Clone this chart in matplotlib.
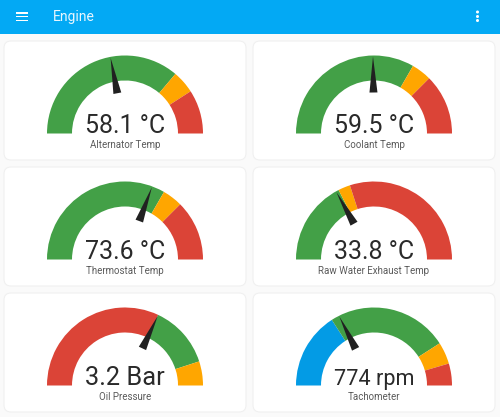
import numpy as np
import matplotlib
matplotlib.use('Agg')
import matplotlib.pyplot as plt
from matplotlib.patches import Wedge, FancyBboxPatch, Polygon, Rectangle, Circle

# --- Data ---
names = ['Alternator Temp', 'Coolant Temp', 'Thermostat Temp',
         'Raw Water Exhaust Temp', 'Oil Pressure', 'Tachometer']
labels = ['58.1 °C', '59.5 °C', '73.6 °C', '33.8 °C', '3.2 Bar', '774 rpm']
values = [58.1, 59.5, 73.6, 33.8, 3.2, 774]
maxes = [132, 120, 120, 100, 5, 2200]
# upper end of each coloured band, in gauge units
band_ends = [[95.5, 108, 132], [80, 90, 120], [80, 90, 120],
             [35, 40, 100], [3.2, 4.5, 5], [700, 1800, 2000, 2200]]
band_colors = [['g', 'o', 'r'], ['g', 'o', 'r'], ['g', 'o', 'r'],
               ['g', 'o', 'r'], ['r', 'g', 'o'], ['b', 'g', 'o', 'r']]

colors = {'g': '#43a047', 'o': '#ffa600', 'r': '#db4437', 'b': '#039be5'}

# --- Layout (pixels) ---
card_x = [4, 253]
card_y = [41, 167, 293]
card_w, card_h = 242, 119
outer, inner = 78, 53
value_width = 80  # the value text is fitted to this width

plt.rcParams['font.family'] = ['Roboto', 'DejaVu Sans']
fig = plt.figure(figsize=(5, 4.17), dpi=100, facecolor='#fafafa')
ax = fig.add_axes([0, 0, 1, 1])
ax.set_xlim(0, 500)
ax.set_ylim(417, 0)
ax.axis('off')

# --- Header ---
ax.add_patch(Rectangle((0, 0), 500, 34, color='#03a9f4', lw=0))
for y in [12.8, 16.5, 20.2]:
    ax.add_patch(Rectangle((15.5, y - 0.7), 12.5, 1.4, color='white', lw=0))
for y in [12, 16.5, 20.5]:
    ax.add_patch(Circle((477.5, y), 1.5, color='white', lw=0))
ax.text(53, 16.5, 'Engine', color='#e8f6fe', fontsize=10, va='center', ha='left')

renderer = fig.canvas.get_renderer()

# --- Gauges ---
for i, name in enumerate(names):
    x0 = card_x[i % 2]
    y0 = card_y[i // 2]
    ax.add_patch(FancyBboxPatch((x0 + 6, y0 + 6), card_w - 12, card_h - 12,
                                boxstyle='round,pad=6,rounding_size=7',
                                fc='white', ec='#f0f0f0', lw=0.8))
    cx = x0 + card_w / 2
    cy = y0 + 92.5

    # y axis points down, so angle 180 is left and 360 is right via the top
    start = 0
    for end, c in zip(band_ends[i], band_colors[i]):
        a0 = 180 + 180 * start / maxes[i]
        a1 = 180 + 180 * end / maxes[i]
        ax.add_patch(Wedge((cx, cy), outer, a0, a1, width=outer - inner,
                           fc=colors[c], ec='none', lw=0))
        start = end

    # needle
    t = np.pi * (1 + values[i] / maxes[i])
    d = np.array([np.cos(t), np.sin(t)])
    n = np.array([-d[1], d[0]])
    c0 = np.array([cx, cy])
    ax.add_patch(Polygon([c0 + 77 * d, c0 + 41 * d + 4 * n, c0 + 41 * d - 4 * n],
                         closed=True, fc='#212121', ec='none'))

    txt = ax.text(cx, cy - 0.5, labels[i], color='#2a2a2a', fontsize=19,
                  ha='center', va='baseline')
    w = txt.get_window_extent(renderer).width
    txt.set_fontsize(min(18.3, 19 * value_width / w))
    ax.text(cx, cy + 11, name, color='#5a5a5a', fontsize=7,
            ha='center', va='center')

fig.savefig('out.png', dpi=100, facecolor=fig.get_facecolor())
